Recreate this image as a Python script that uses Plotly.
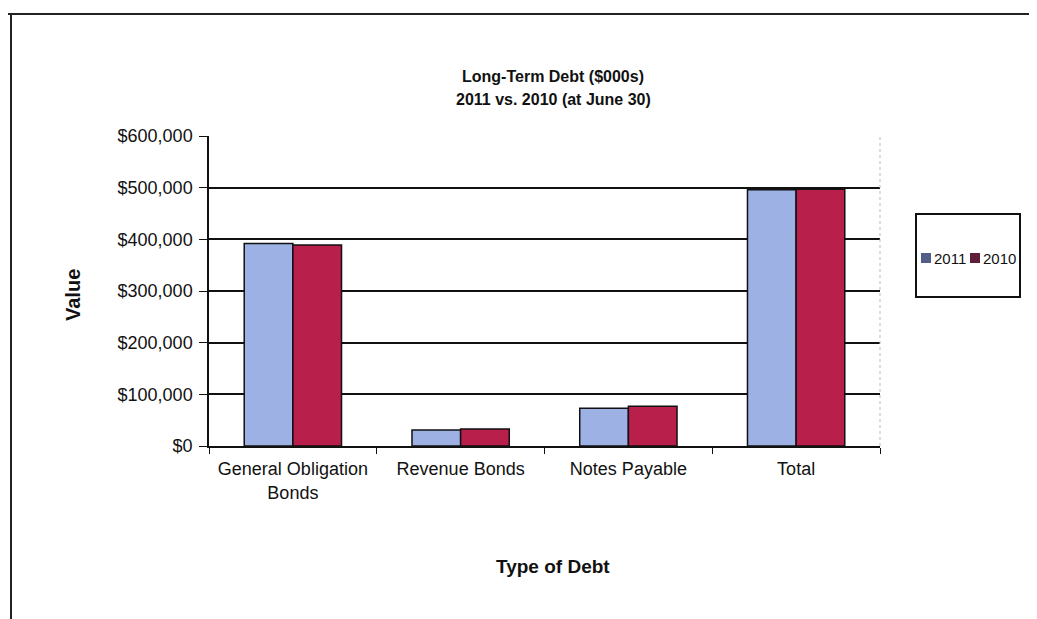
import plotly.graph_objects as go

categories = ["General Obligation<br>Bonds", "Revenue Bonds", "Notes Payable", "Total"]
values_2011 = [392000, 31000, 73000, 496000]
values_2010 = [389000, 33000, 77000, 497000]
series_names = ["2011", "2010"]
tick_vals = [0, 100000, 200000, 300000, 400000, 500000, 600000]
tick_text = ["$0", "$100,000", "$200,000", "$300,000", "$400,000", "$500,000", "$600,000"]

FONT = "Liberation Sans, Arial, sans-serif"
bar_colors = ["#9DB1E5", "#B81F4A"]
legend_colors = ["#505E88", "#5E1F37"]

# page body has an 8px margin; coordinates below are in screenshot pixels
OFF = 8
W, H = 1037 - OFF, 619 - OFF
L, R, T, B = 209, 880, 136, 446


def px(x):
    return (x - L) / (R - L)


def py(y):
    return (B - y) / (B - T)


fig = go.Figure()
for name, vals, c in zip(series_names, [values_2011, values_2010], bar_colors):
    fig.add_trace(go.Bar(x=categories, y=vals, name=name,
                         marker=dict(color=c, line=dict(color="#111111", width=1.5))))

fig.update_layout(
    width=W, height=H,
    margin=dict(l=L - OFF, r=(W + OFF) - R, t=T - OFF, b=(H + OFF) - B, autoexpand=False),
    paper_bgcolor="white", plot_bgcolor="white",
    barmode="group", bargap=0.42, bargroupgap=0,
    font=dict(family=FONT, size=17, color="#111111"),
    showlegend=False,
    xaxis=dict(showline=True, linecolor="#111111", linewidth=1.5, ticks="outside", ticklen=6,
               tickcolor="#111111", tickson="boundaries", tickfont=dict(size=18, family=FONT),
               ticklabelstandoff=6, range=[-0.5, 3.5], showgrid=False),
    yaxis=dict(range=[0, 600000], tickvals=tick_vals, ticktext=tick_text, showline=True,
               linecolor="#111111", linewidth=1.5, ticks="outside", ticklen=8, tickcolor="#111111",
               showgrid=True, gridcolor="#111111", gridwidth=1.5, zeroline=False,
               ticklabelstandoff=3, tickfont=dict(size=18, family=FONT)),
)

annotations = [
    dict(text="<b>Long-Term Debt ($000s)</b>", x=px(553), y=py(77), showarrow=False,
         font=dict(size=16, family=FONT), xanchor="center", yanchor="middle"),
    dict(text="<b>2011 vs. 2010 (at June 30)</b>", x=px(553), y=py(100), showarrow=False,
         font=dict(size=16, family=FONT), xanchor="center", yanchor="middle"),
    dict(text="<b>Value</b>", x=px(73), y=py(295), showarrow=False, textangle=-90,
         font=dict(size=20, family=FONT), xanchor="center", yanchor="middle"),
    dict(text="<b>Type of Debt</b>", x=px(553), y=py(566), showarrow=False,
         font=dict(size=19, family=FONT), xanchor="center", yanchor="middle"),
    # legend labels
    dict(text=series_names[0], x=px(932), y=py(258), showarrow=False,
         font=dict(size=15, family=FONT), xanchor="left", yanchor="middle"),
    dict(text=series_names[1], x=px(981), y=py(258), showarrow=False,
         font=dict(size=15, family=FONT), xanchor="left", yanchor="middle"),
]
for a in annotations:
    a.update(xref="paper", yref="paper")
fig.update_layout(annotations=annotations)

shapes = [
    # legend box
    dict(type="rect", x0=px(916), x1=px(1020), y0=py(214), y1=py(297), line=dict(color="#111111", width=2)),
    # legend swatches
    dict(type="rect", x0=px(921), x1=px(931), y0=py(253), y1=py(263), line=dict(width=0),
         fillcolor=legend_colors[0]),
    dict(type="rect", x0=px(970), x1=px(980), y0=py(253), y1=py(263), line=dict(width=0),
         fillcolor=legend_colors[1]),
    # plot area right border
    dict(type="line", x0=1, x1=1, y0=0, y1=1, line=dict(color="#BBBBBB", width=1, dash="dot")),
    # outer frame
    dict(type="line", x0=px(8), x1=px(1037), y0=py(14), y1=py(14), line=dict(color="#222222", width=2)),
    dict(type="line", x0=px(11), x1=px(11), y0=py(14), y1=py(619), line=dict(color="#222222", width=2)),
]
for s in shapes:
    s.update(xref="paper", yref="paper")
fig.update_layout(shapes=shapes)

fig.write_html("out.html")
